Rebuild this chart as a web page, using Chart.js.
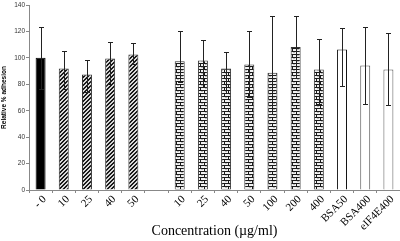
<!DOCTYPE html>
<html>
<head>
<meta charset="utf-8">
<script src="https://cdn.jsdelivr.net/npm/chart.js@4/dist/chart.umd.min.js"></script>
<style>
html,body{margin:0;padding:0;background:#fff;overflow:hidden;}
#wrap{width:400px;height:241px;}
</style>
</head>
<body>
<div id="wrap"><canvas id="c" width="400" height="241"></canvas></div>
<script>
// ---- data ----
const categories = ['- 0','10','25','40','50','','10','25','40','50','100','200','400','BSA50','BSA400','eIF4E400'];
const meanAdhesion = [100, 92, 87.5, 99.5, 102.5, null, 97.5, 98, 92, 95, 88.75, 108.25, 91.25, 106.25, 94.25, 91.25];
const errorUpper   = [123.25, 105.25, 98.5, 111.75, 111.5, null, 120, 113.5, 104.75, 120.5, 132, 131.5, 114, 122.75, 123.25, 118.75];
const errorLower   = [76.75, 76.75, 74.25, 80, 95, null, 82, 78, 73.25, 70.5, 57.5, 85, 65, 78.5, 64.75, 64.25];
const yTicks = [0, 20, 40, 60, 80, 100, 120, 140];
const groups = ['solid','hatch','hatch','hatch','hatch','none','brick','brick','brick','brick','brick','brick','brick','open','open','open'];

const canvas = document.getElementById('c');
const ctx = canvas.getContext('2d');

function hatchPattern(){
  const c = document.createElement('canvas'); c.width = 4; c.height = 4;
  const g = c.getContext('2d');
  g.fillStyle = '#d8d8d8'; g.fillRect(0,0,4,4);
  g.fillStyle = '#1a1a1a';
  for (let i = 0; i < 4; i++) { g.fillRect(3 - i, i, 1, 1); g.fillRect((4 - i) % 4, i, 1, 1); }
  return ctx.createPattern(c, 'repeat');
}
function brickPattern(){
  const c = document.createElement('canvas'); c.width = 8; c.height = 6;
  const g = c.getContext('2d');
  g.fillStyle = '#f2f2f2'; g.fillRect(0,0,8,6);
  g.fillStyle = '#1a1a1a';
  g.fillRect(0,0,8,1); g.fillRect(0,3,8,1);
  g.fillRect(4,1,1,2); g.fillRect(0,4,1,2);
  g.fillStyle = '#bbbbbb';
  g.fillRect(1,1,2,1); g.fillRect(5,4,2,1);
  return ctx.createPattern(c, 'repeat');
}
const hatch = hatchPattern();
const brick = brickPattern();
const fillFor = {solid:'#000', hatch: hatch, brick: brick, open:'#fff', none:'#fff'};
const borderFor = {solid:'#000', hatch:'#333', brick:'#333', open:'#111', none:'#fff'};

const errorBars = {
  id: 'errorBars',
  afterDatasetsDraw(chart){
    const y = chart.scales.y;
    const meta = chart.getDatasetMeta(0);
    const c = chart.ctx;
    c.save();
    c.strokeStyle = '#222';
    c.lineWidth = 1;
    meta.data.forEach((bar, i) => {
      if (errorUpper[i] == null) return;
      const x = Math.round(bar.x) + 0.5;
      const yt = Math.round(y.getPixelForValue(errorUpper[i])) + 0.5;
      const yb = Math.round(y.getPixelForValue(errorLower[i])) + 0.5;
      c.beginPath();
      c.moveTo(x, yt); c.lineTo(x, yb);
      c.moveTo(x - 2.5, yt); c.lineTo(x + 2.5, yt);
      c.moveTo(x - 2.5, yb); c.lineTo(x + 2.5, yb);
      c.stroke();
    });
    c.restore();
  }
};

new Chart(ctx, {
  type: 'bar',
  data: {
    labels: categories,
    datasets: [{
      data: meanAdhesion,
      backgroundColor: groups.map(g => fillFor[g]),
      borderColor: groups.map((g, i) => (i >= 14 ? '#555' : borderFor[g])),
      borderWidth: 1,
      barPercentage: 0.43,
      categoryPercentage: 1.0
    }]
  },
  options: {
    responsive: false,
    animation: false,
    devicePixelRatio: 1,
    layout: { padding: { top: 5, right: 0, left: 0, bottom: 0 } },
    plugins: { legend: { display: false }, tooltip: { enabled: false } },
    scales: {
      x: {
        offset: true,
        grid: { offset: true, drawOnChartArea: false, drawTicks: true, tickLength: 3, color: '#888' },
        border: { color: '#888', width: 1 },
        ticks: {
          autoSkip: false, minRotation: 45, maxRotation: 45, padding: 0, labelOffset: 4,
          color: '#000', font: { family: 'Liberation Serif', size: 11 }
        },
        title: {
          display: true, text: 'Concentration (\u00b5g/ml)', color: '#000',
          font: { family: 'Liberation Serif', size: 14 }, padding: { top: 0, bottom: 1 }
        },
        afterFit(s){ s.height = 51; }
      },
      y: {
        min: 0, max: 140,
        afterBuildTicks(s){ s.ticks = yTicks.map(v => ({ value: v })); },
        grid: { drawOnChartArea: false, drawTicks: true, tickLength: 3, color: '#888' },
        border: { color: '#888', width: 1 },
        ticks: { padding: 1, color: '#333', font: { family: 'Liberation Sans', size: 6.5 } },
        title: {
          display: true, text: 'Relative % adhesion', color: '#000',
          font: { family: 'Liberation Sans', size: 6.5, weight: 'bold' }, padding: { top: 0, bottom: 0 }
        },
        afterFit(s){ s.width = 29; }
      }
    }
  },
  plugins: [errorBars]
});
</script>
</body>
</html>
